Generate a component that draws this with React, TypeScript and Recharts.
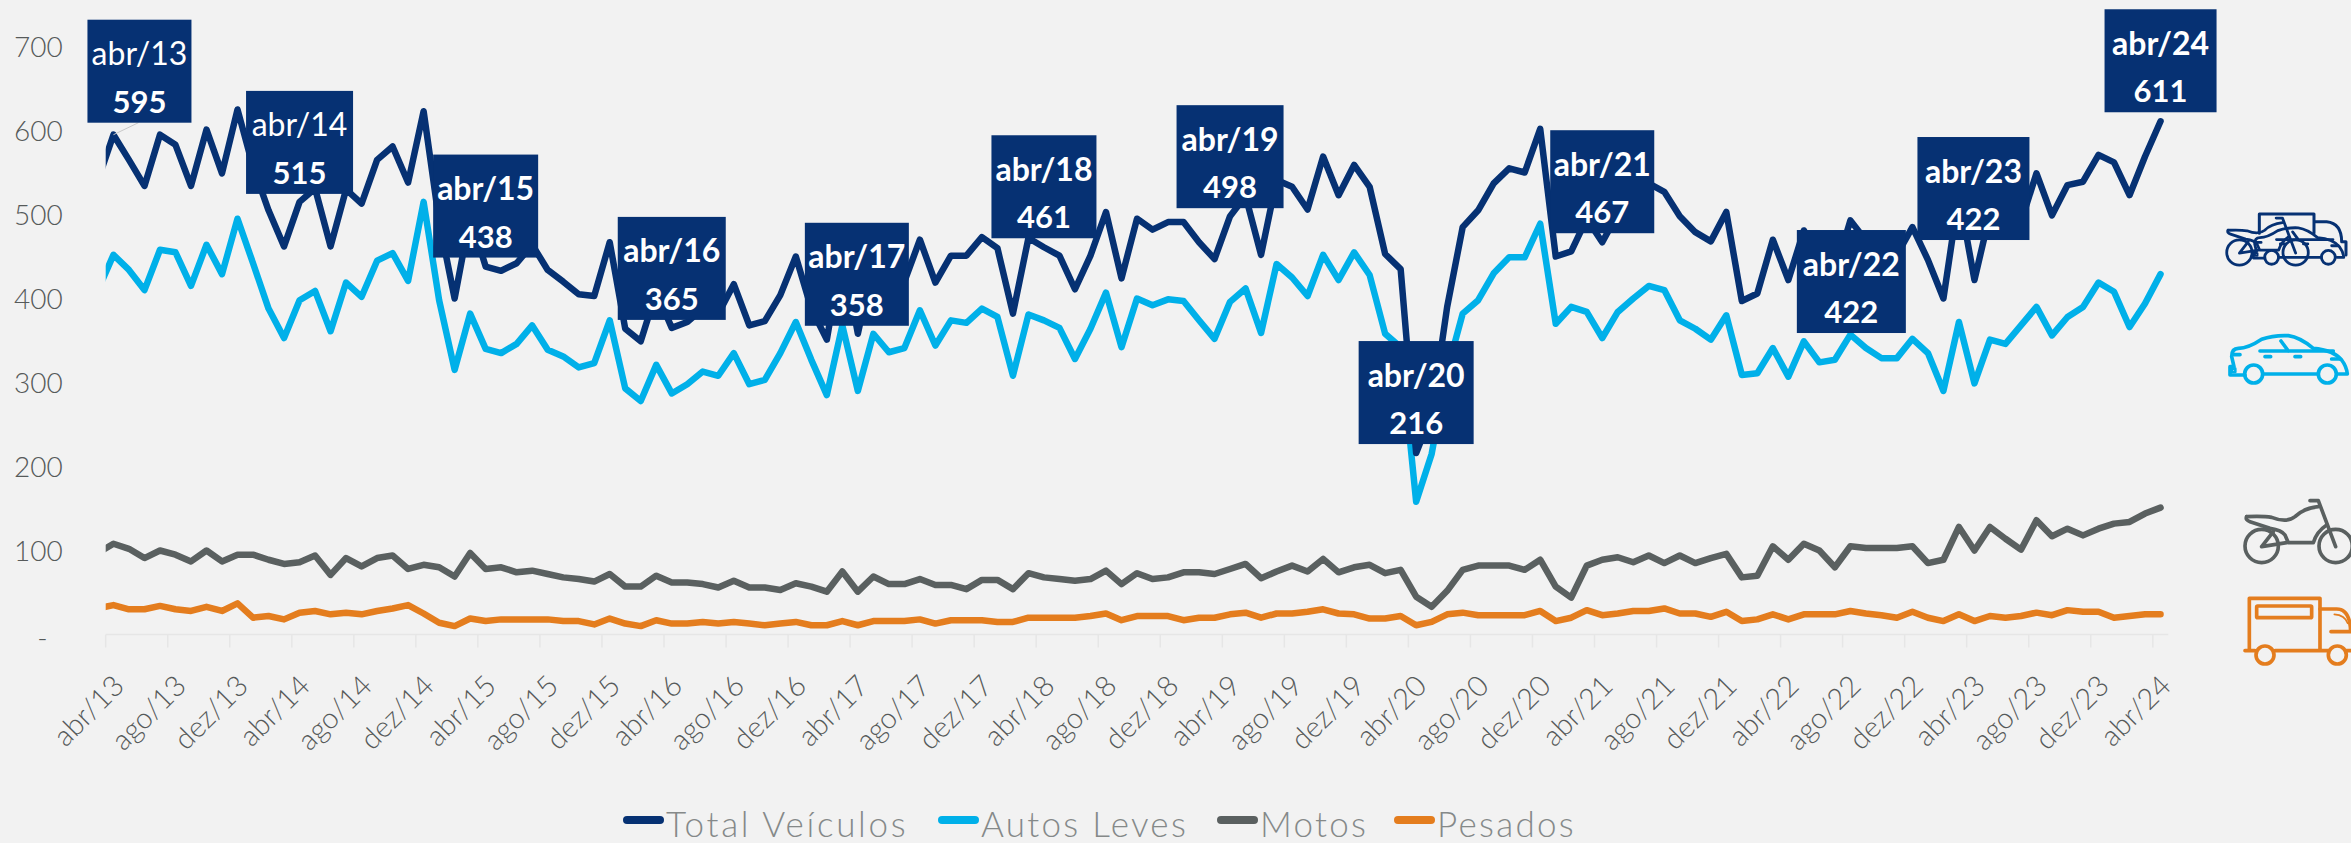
import React from "react";
import { LineChart, Line, XAxis, YAxis, Legend, LabelList } from "recharts";

const tickLabels = [
  "abr/13", "ago/13", "dez/13", "abr/14", "ago/14", "dez/14", "abr/15", "ago/15", "dez/15",
  "abr/16", "ago/16", "dez/16", "abr/17", "ago/17", "dez/17", "abr/18", "ago/18", "dez/18",
  "abr/19", "ago/19", "dez/19", "abr/20", "ago/20", "dez/20", "abr/21", "ago/21", "dez/21",
  "abr/22", "ago/22", "dez/22", "abr/23", "ago/23", "dez/23", "abr/24",
];

// first value of each series is mar/13, cut off by the left edge of the plot
const totalVeiculos = [
  541, 595, 565, 534, 595, 583, 534, 601, 549, 625, 557, 505, 462, 515, 531, 462, 530, 513, 565, 581, 538, 623,
  492, 400, 498, 438, 433, 442, 464, 434, 420, 405, 403, 467, 364, 349, 408, 365, 372, 388, 382, 417, 368, 373,
  404, 450, 388, 351, 459, 358, 443, 412, 420, 470, 419, 451, 451, 473, 460, 382, 472, 461, 451, 411, 451, 503,
  424, 495, 482, 491, 491, 467, 447, 498, 522, 452, 541, 533, 506, 569, 523, 559, 533, 453, 435, 216, 263, 390,
  485, 505, 537, 555, 550, 602, 450, 456, 495, 467, 501, 514, 537, 527, 498, 479, 468, 503, 397, 406, 470, 422,
  481, 448, 431, 493, 469, 455, 452, 485, 446, 400, 524, 422, 501, 480, 491, 549, 499, 535, 539, 571, 562, 523,
  569, 611,
];
const autosLeves = [
  410, 452, 434, 410, 458, 455, 415, 464, 429, 495, 442, 388, 353, 398, 409, 361, 419, 402, 445, 454, 421, 515,
  398, 315, 382, 340, 335, 346, 368, 339, 331, 318, 323, 374, 293, 278, 321, 287, 298, 313, 308, 335, 298, 303,
  335, 372, 327, 285, 368, 290, 358, 336, 341, 386, 344, 374, 371, 388, 378, 308, 381, 374, 365, 328, 364, 407,
  342, 400, 392, 399, 397, 374, 352, 396, 412, 359, 441, 425, 403, 452, 422, 455, 428, 358, 342, 158, 215, 314,
  382, 398, 430, 449, 449, 489, 370, 390, 384, 353, 384, 400, 415, 410, 374, 364, 351, 380, 309, 311, 341, 307,
  349, 324, 327, 357, 341, 329, 329, 352, 335, 290, 372, 299, 351, 346, 368, 390, 356, 378, 390, 419, 408, 366,
  394, 429,
];
const motos = [
  97, 108, 102, 91, 100, 95, 87, 100, 87, 95, 95, 89, 84, 86, 94, 71, 91, 81, 91, 94, 78, 83,
  80, 69, 97, 78, 80, 74, 76, 72, 68, 66, 63, 72, 57, 57, 70, 62, 62, 60, 56, 64, 56, 56,
  53, 61, 57, 51, 75, 51, 69, 60, 60, 66, 59, 59, 54, 65, 65, 54, 73, 68, 66, 64, 66, 76,
  60, 73, 66, 68, 74, 74, 72, 78, 84, 67, 75, 82, 75, 90, 74, 80, 83, 73, 77, 45, 33, 52,
  77, 82, 82, 82, 77, 89, 57, 44, 82, 89, 92, 86, 94, 85, 94, 85, 91, 96, 68, 70, 105, 89,
  108, 100, 80, 105, 103, 103, 103, 105, 85, 89, 128, 100, 128, 114, 101, 136, 117, 126, 118, 126, 132, 134,
  144, 151,
];
const pesados = [
  31, 35, 30, 30, 34, 30, 28, 33, 28, 37, 20, 22, 18, 26, 28, 24, 26, 24, 28, 31, 35, 25,
  14, 10, 19, 16, 18, 18, 18, 18, 16, 16, 12, 19, 13, 10, 17, 13, 13, 15, 13, 15, 13, 11,
  13, 15, 11, 11, 16, 11, 16, 16, 16, 18, 13, 17, 17, 17, 15, 15, 20, 20, 20, 20, 22, 25,
  17, 22, 22, 22, 17, 20, 20, 24, 26, 20, 25, 25, 27, 30, 25, 24, 19, 19, 22, 11, 15, 24,
  26, 23, 23, 23, 23, 28, 16, 20, 29, 23, 25, 28, 28, 31, 25, 25, 21, 27, 16, 18, 24, 18,
  24, 24, 24, 28, 25, 23, 20, 27, 20, 16, 24, 16, 22, 20, 22, 26, 23, 29, 27, 27, 20, 22,
  24, 24,
];

const NAVY = "#063173";
const CYAN = "#00b0e9";
const GRAY = "#5a6060";
const ORANGE = "#e47d1e";

const rows = totalVeiculos.map((v, i) => ({
  idx: i - 1,
  total: v,
  autos: autosLeves[i],
  motos: motos[i],
  pesados: pesados[i],
}));

const tickPositions = tickLabels.map((_, k) => k * 4 - 0.5);
const legendOrder = ["Total Veículos", "Autos Leves", "Motos", "Pesados"];
const legendLefts = [623, 938, 1217, 1394];

// box layout per april callout: width, shift from the point, gap above the point
const calloutLayout: Record<number, { w: number; dx: number; gap: number }> = {
  0: { w: 104, dx: 26, gap: 12 },
  12: { w: 107, dx: 0, gap: 8 },
  24: { w: 105, dx: 0, gap: 9 },
  36: { w: 108, dx: 0, gap: 8 },
  48: { w: 104, dx: -1, gap: 8 },
  60: { w: 105, dx: 0, gap: 9 },
  72: { w: 107, dx: 0, gap: 8 },
  84: { w: 115, dx: 0, gap: 9 },
  96: { w: 104, dx: 0, gap: 9 },
  108: { w: 109, dx: 63, gap: -53 },
  120: { w: 112, dx: -1, gap: 40 },
  132: { w: 112, dx: 0, gap: 9 },
};

function Callout(props: any) {
  const { x, y, index, value } = props;
  const month = index - 1;
  const box = calloutLayout[month];
  if (!box || month < 0) return null;
  const cx = x + box.dx;
  const bottom = y - box.gap;
  const top = bottom - 103;
  const light = month < 24;
  return (
    <g>
      {month === 0 && <line x1={x} y1={y} x2={x + 25} y2={bottom} stroke="#c8c8c8" strokeWidth={1} />}
      <rect x={cx - box.w / 2} y={top} width={box.w} height={103} fill={NAVY} />
      <text x={cx} y={top + 33} fill="#fff" fontSize={32} fontWeight={light ? 400 : 700} textAnchor="middle" dominantBaseline="central" fontFamily="Lato">
        {tickLabels[month / 4]}
      </text>
      <text x={cx} y={top + 81} fill="#fff" fontSize={31} fontWeight={700} textAnchor="middle" dominantBaseline="central" fontFamily="Lato">
        {value}
      </text>
    </g>
  );
}

function XTick(props: any) {
  const { x, y, payload } = props;
  const label = tickLabels[Math.round((payload.value + 0.5) / 4)];
  return (
    <text
      x={x + 12}
      y={y + 30}
      transform={`rotate(-45 ${x + 12} ${y + 30})`}
      textAnchor="end"
      dominantBaseline="central"
      fill="#565a5a"
      fontSize={29}
      fontWeight={300}
      fontFamily="Lato"
    >
      {label}
    </text>
  );
}

function YTick(props: any) {
  const { x, y, payload } = props;
  const zero = payload.value === 0;
  return (
    <text x={zero ? x - 15 : x} y={y + (zero ? 2 : -1)} textAnchor="end" dominantBaseline="central" fill="#565a5a" fontSize={28} fontWeight={300} fontFamily="Lato">
      {zero ? "-" : payload.value}
    </text>
  );
}

function LegendRow(props: any) {
  const items = legendOrder.map((n) => (props.payload || []).find((p: any) => p.value === n)).filter(Boolean);
  return (
    <div style={{ position: "relative", height: 46, width: 2351 }}>
      {items.map((it: any, i: number) => (
        <div key={it.value} style={{ position: "absolute", left: legendLefts[i], top: 8, display: "flex", alignItems: "center", height: 36, whiteSpace: "nowrap" }}>
          <span style={{ display: "inline-block", width: 41, height: 8, borderRadius: 4, background: it.color, marginRight: 2, marginTop: -6 }} />
          <span style={{ fontFamily: "Lato", fontSize: 35, lineHeight: "36px", fontWeight: 300, color: "#858989", letterSpacing: i === 0 ? 2.7 : 2.3 }}>{it.value}</span>
        </div>
      ))}
    </div>
  );
}

function Motorcycle({ color, sw = 11 }: { color: string; sw?: number }) {
  return (
    <g fill="none" stroke={color} strokeWidth={sw} strokeLinecap="round" strokeLinejoin="round">
      <circle cx={95} cy={168} r={50} />
      <circle cx={317} cy={168} r={50} />
      <path d="M50 80 Q45 90 60 95 L120 115 Q155 120 165 135 L175 158 H250 Q260 125 290 105" />
      <path d="M50 80 Q100 78 125 82 Q170 100 195 80 Q220 55 265 50" />
      <path d="M240 32 H265 L317 170" />
      <path d="M95 170 L130 125 M95 170 L170 158" />
    </g>
  );
}

function Car({ color, sw = 11 }: { color: string; sw?: number }) {
  return (
    <g fill="none" stroke={color} strokeWidth={sw} strokeLinecap="round" strokeLinejoin="round">
      <circle cx={131} cy={522} r={27} />
      <circle cx={352} cy={522} r={27} />
      <path d="M105 525 H60 V500 H72 L65 470 Q65 445 85 445 Q115 445 155 418 Q190 405 235 407 Q270 412 310 445 Q370 450 395 480 Q410 500 412 522 H385" />
      <path d="M325 522 H160 M150 453 H370 M213 423 L235 453 M165 470 H182 M255 470 H272 M365 477 H390 M72 464 H90" />
      <rect x={66} y={506} width={10} height={10} strokeWidth={sw * 0.7} />
    </g>
  );
}

function Truck({ color }: { color: string }) {
  return (
    <g fill="none" stroke={color} strokeWidth={11} strokeLinecap="round" strokeLinejoin="round">
      <path d="M58 480 V325 H270 V480" />
      <rect x={80} y={348} width={165} height={35} rx={3} />
      <path d="M45 482 H75 M135 482 H295 M350 482 H365" />
      <circle cx={105} cy={495} r={27} />
      <circle cx={322} cy={495} r={27} />
      <path d="M270 357 H320 Q360 357 362 425 H303" />
      <path d="M313 373 Q345 375 353 400" strokeWidth={5} />
    </g>
  );
}

function Icons() {
  return (
    <svg width={2351} height={843} style={{ position: "absolute", left: 0, top: 0, pointerEvents: "none" }}>
      <g transform="translate(2210 200) scale(0.3333)">
        <g fill="none" stroke={NAVY} strokeWidth={9} strokeLinecap="round" strokeLinejoin="round">
          <path d="M148 100 V42 H312 V100 M312 65 H350 Q395 70 395 125 H408 V165" />
        </g>
        <g transform="translate(84 -230) scale(0.77)">
          <Car color={NAVY} sw={11} />
        </g>
        <g transform="translate(16 30) scale(0.76)">
          <Motorcycle color={NAVY} sw={11} />
        </g>
      </g>
      <g transform="translate(2210 200) scale(0.3333)">
        <Car color={CYAN} />
      </g>
      <g transform="translate(2230 490) scale(0.3333)">
        <Motorcycle color={GRAY} />
        <Truck color={ORANGE} />
      </g>
    </svg>
  );
}

export default function App() {
  return (
    <div style={{ position: "absolute", left: 0, top: 0, width: 2351, height: 843, background: "#f2f2f2", overflow: "hidden" }}>
      <LineChart width={2351} height={843} data={rows} margin={{ top: 46.5, right: 182.7, bottom: 0, left: 0 }}>
        <XAxis
          type="number"
          dataKey="idx"
          domain={[-0.5, 132.5]}
          ticks={tickPositions}
          allowDataOverflow
          interval={0}
          height={162.5}
          tickSize={13}
          tick={XTick}
          stroke="#e6e6e6"
          strokeWidth={1.5}
        />
        <YAxis
          width={105.7}
          domain={[0, 700]}
          ticks={[0, 100, 200, 300, 400, 500, 600, 700]}
          tickSize={0}
          tickMargin={43}
          axisLine={false}
          tickLine={false}
          tick={YTick}
        />
        <Legend verticalAlign="bottom" content={LegendRow} wrapperStyle={{ left: 0, width: 2351, height: 46 }} />
        <Line name="Pesados" dataKey="pesados" stroke={ORANGE} strokeWidth={6.5} dot={false} activeDot={false} strokeLinejoin="round" strokeLinecap="round" isAnimationActive={false} />
        <Line name="Motos" dataKey="motos" stroke={GRAY} strokeWidth={6.5} dot={false} activeDot={false} strokeLinejoin="round" strokeLinecap="round" isAnimationActive={false} />
        <Line name="Autos Leves" dataKey="autos" stroke={CYAN} strokeWidth={6.5} dot={false} activeDot={false} strokeLinejoin="round" strokeLinecap="round" isAnimationActive={false} />
        <Line name="Total Veículos" dataKey="total" stroke={NAVY} strokeWidth={6.5} dot={false} activeDot={false} strokeLinejoin="round" strokeLinecap="round" isAnimationActive={false}>
          <LabelList dataKey="total" content={Callout} />
        </Line>
      </LineChart>
      <Icons />
    </div>
  );
}
